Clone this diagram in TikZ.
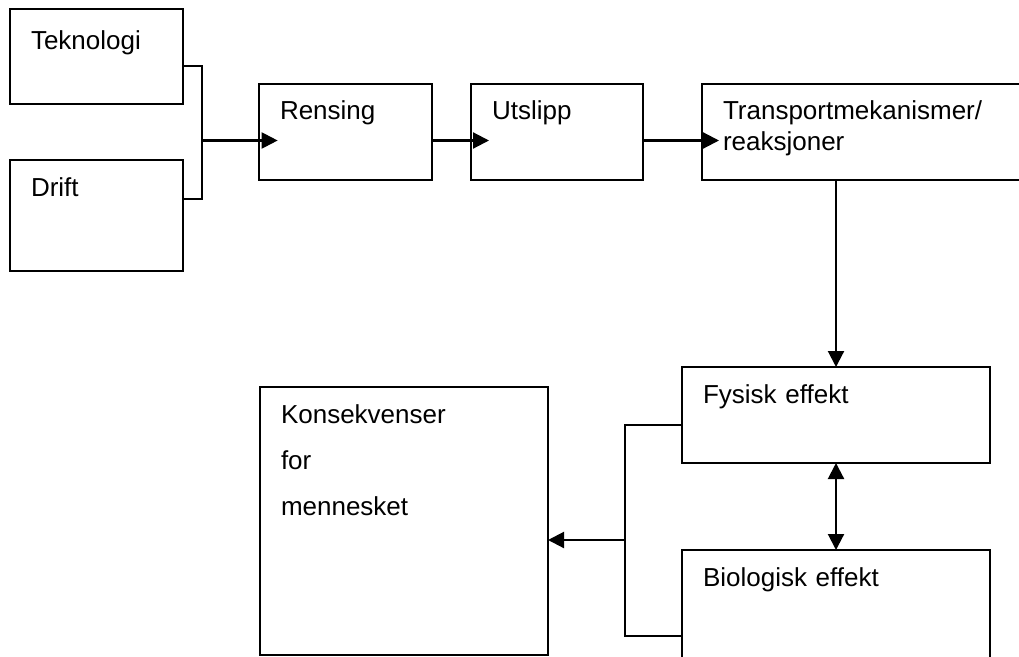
\documentclass[tikz,border=0pt]{standalone}
\usepackage{fontspec}
\setmainfont{Liberation Sans}
\usetikzlibrary{arrows.meta}

\begin{document}
\begin{tikzpicture}[
  x=0.75pt,y=-0.75pt,
  font=\fontsize{19.5}{22.5}\selectfont,
  box/.style={draw,line width=1pt,anchor=north west,inner xsep=15.75pt,inner ysep=0pt,
    outer sep=0pt,align=left,text height=27pt},
  link/.style={line width=1pt},
  arr/.style={line width=1.6pt,-{Triangle[length=12pt,width=12pt]}},
  twoarr/.style={line width=1.6pt,{Triangle[length=12pt,width=12pt]}-{Triangle[length=12pt,width=12pt]}}
]
\useasboundingbox (0,0) rectangle (1019,656);

\node[box,text width=98.25pt,text height=30.75pt,text depth=40.5pt] (tek) at (10,9) {Teknologi};
\node[box,text width=98.25pt,text depth=56.25pt] (drift) at (10,160) {Drift};
\node[box,text width=98.25pt,text depth=45pt] (rens) at (259,84) {Rensing};
\node[box,text width=97.5pt,text depth=45pt] (utslipp) at (471,84) {Utslipp};
\node[box,text width=216pt,text depth=45pt] (transp) at (702,84) {Transportmekanismer/\\reaksjoner};
\node[box,text width=199.5pt,text depth=45pt] (fysisk) at (682,367) {Fysisk effekt};
\node[box,text width=199.5pt,text depth=63pt] (bio) at (682,550) {Biologisk effekt};
\node[box,text width=184.5pt,text depth=174pt] (kons) at (260,387) {Konsekvenser\\[12pt]for\\[12pt]mennesket};

\coordinate (jl) at (202,140.5);
\coordinate (jr) at (625,540);

\draw[link] (tek.east |- 0,66) -| (jl |- 0,199) -- (drift.east |- 0,199);
\draw[arr] (jl) -- ([xshift=14pt]rens.west |- jl);
\draw[arr] (rens.east |- jl) -- ([xshift=13.5pt]utslipp.west |- jl);
\draw[arr] (utslipp.east |- jl) -- ([xshift=12.75pt]transp.west |- jl);
\draw[arr] (fysisk.north |- transp.south) -- (fysisk.north);
\draw[twoarr] (fysisk.south) -- (bio.north);
\draw[link] (fysisk.west |- 0,425) -| (jr |- 0,636) -- (bio.west |- 0,636);
\draw[arr] (jr) -- (kons.east |- jr);
\end{tikzpicture}
\end{document}
